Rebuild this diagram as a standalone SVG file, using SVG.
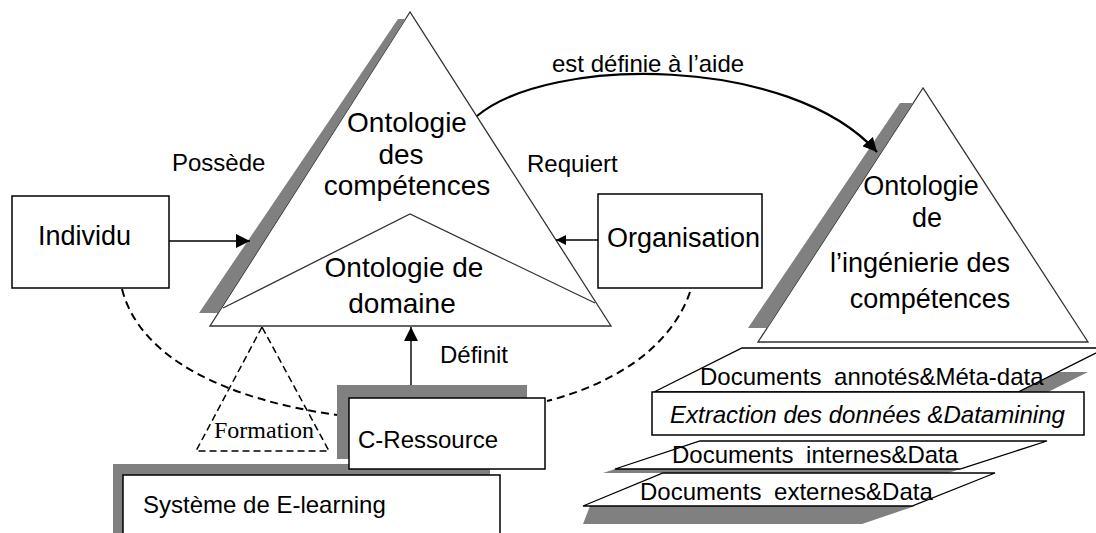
<svg xmlns="http://www.w3.org/2000/svg" width="1096" height="533" viewBox="0 0 1096 533">
<style>
text{font-family:"Liberation Sans",Arial,sans-serif;fill:#000}
.lbl{font-size:24px}
.tri{fill:#fff;stroke:#333;stroke-width:1.3}
.box{fill:#fff;stroke:#000;stroke-width:1.5}
.sh{fill:#808080;stroke:none}
.con{fill:none;stroke:#000;stroke-width:1.4}
.dash{fill:none;stroke:#000;stroke-width:2;stroke-dasharray:8 5}
.doc{fill:#fff;stroke:#000;stroke-width:1.3}
</style>
<defs>
<marker id="ah" markerUnits="userSpaceOnUse" markerWidth="14" markerHeight="14" refX="14" refY="7" orient="auto"><path d="M0,0 L14,7 L0,14 z" fill="#000"/></marker>
<marker id="ahs" markerUnits="userSpaceOnUse" markerWidth="10" markerHeight="10" refX="10" refY="5" orient="auto"><path d="M0,0 L10,5 L0,10 z" fill="#000"/></marker>
</defs>
<rect width="1096" height="533" fill="#fff"/>

<g id="elearning">
<rect class="sh" x="113" y="464" width="377" height="80"/>
<rect class="box" x="123" y="475" width="377" height="70"/>
<text class="lbl" x="143" y="513">Système de E-learning</text>
</g>

<g id="cressource">
<rect class="sh" x="337" y="385" width="190" height="74"/>
<rect class="box" x="349" y="398" width="196" height="71"/>
<text class="lbl" x="358" y="448">C-Ressource</text>
</g>

<g id="formation">
<path d="M262,327 L196,451 L329,451 Z" fill="none" stroke="#000" stroke-width="1.5" stroke-dasharray="7 4"/>
<text x="214" y="438" style="font-family:'Liberation Serif','Times New Roman',serif;font-size:24px">Formation</text>
</g>

<g id="ontologie-competences">
<polygon class="tri" points="410,12 210,326 611,326"/>
<polygon class="sh" points="398,19 405.5,19 218,313 199,313"/>
<polyline points="223,308 410,214 595,303" fill="none" stroke="#333" stroke-width="1.3"/>
<g style="font-size:28px" text-anchor="middle">
<text x="407" y="132">Ontologie</text>
<text x="401" y="164">des</text>
<text x="407" y="195">compétences</text>
<text x="404" y="277">Ontologie de</text>
<text x="402" y="313">domaine</text>
</g>
</g>

<g id="individu">
<rect class="box" x="12" y="196" width="157" height="92"/>
<text x="38" y="245" style="font-size:27px">Individu</text>
</g>

<g id="organisation">
<rect class="box" x="598" y="194" width="164" height="94"/>
<text x="607" y="247" style="font-size:27px">Organisation</text>
</g>

<g id="ontologie-ingenierie">
<polygon class="tri" points="923,88 758,342 1088,342"/>
<polygon class="sh" points="900,103 913,103 767,328 748,328"/>
<g style="font-size:27px" text-anchor="middle">
<text x="921" y="195">Ontologie</text>
<text x="927" y="227">de</text>
<text x="920" y="272">l’ingénierie des</text>
<text x="930" y="308">compétences</text>
</g>
</g>

<g id="documents-annotes">
<polygon class="sh" points="724,372 1088,372 1048,392 684,392"/>
<polygon class="doc" points="742,348 1106,348 1018,392 654,392"/>
<text class="lbl" x="700" y="385" style="word-spacing:6px">Documents annotés&amp;Méta-data</text>
</g>

<g id="extraction">
<rect class="box" x="652" y="392" width="432" height="43"/>
<text class="lbl" x="670" y="423" style="font-style:italic">Extraction des données &amp;Datamining</text>
</g>

<g id="documents-internes-externes">
<polygon class="sh" points="688,445 1035,445 948,473 603,473"/>
<polygon class="sh" points="590,506 915,506 862,524 583,524"/>
<polygon class="doc" points="663,473 995,473 912,506 583,506"/>
<polygon class="doc" points="700,441 1047,441 960,469 615,469"/>
<text class="lbl" x="672" y="463" style="word-spacing:6px">Documents internes&amp;Data</text>
<text class="lbl" x="640" y="500" style="word-spacing:6px">Documents externes&amp;Data</text>
</g>

<g id="connectors">
<line class="con" x1="169" y1="241" x2="250" y2="241" marker-end="url(#ah)"/>
<line class="con" x1="598" y1="240" x2="556" y2="240" marker-end="url(#ahs)"/>
<line class="con" x1="411" y1="385" x2="411" y2="327" marker-end="url(#ah)"/>
<path d="M477,116 C550,55 790,55 877,152" fill="none" stroke="#000" stroke-width="2.2" marker-end="url(#ah)"/>
<path class="dash" d="M122,289 C140,360 230,400 337,415"/>
<path class="dash" d="M690,292 C670,350 610,385 547,401"/>
<text class="lbl" x="172" y="171">Possède</text>
<text class="lbl" x="527" y="172">Requiert</text>
<text class="lbl" x="552" y="72">est définie à l’aide</text>
<text class="lbl" x="440" y="363">Définit</text>
</g>
</svg>
